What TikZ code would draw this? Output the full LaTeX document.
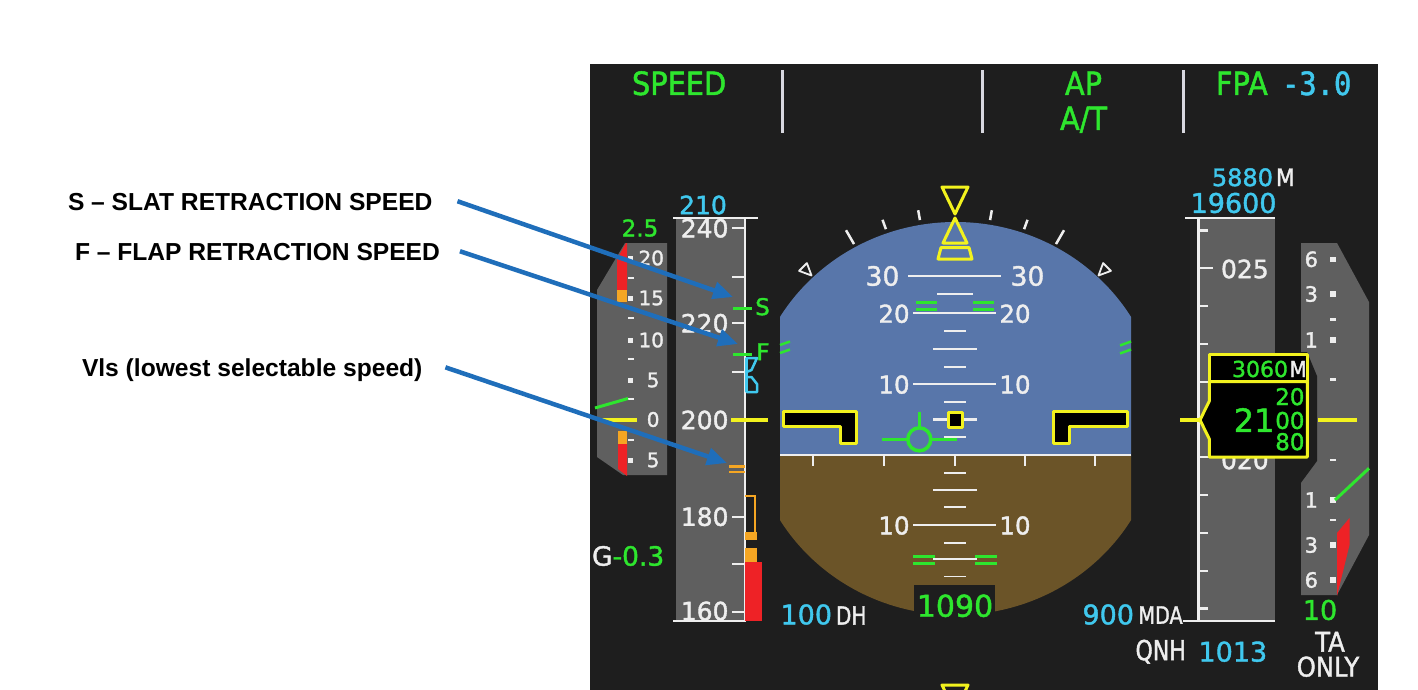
\documentclass[tikz,border=0pt]{standalone}
\usepackage{fontspec}
\setmainfont{Liberation Sans}
\newfontfamily\pfd[FakeBold=1.5]{DejaVu Sans}
\newfontfamily\pfdn[FakeStretch=0.9,FakeBold=1.5]{DejaVu Sans}
\newfontfamily\pfdc[FakeStretch=0.8,FakeBold=1.5]{DejaVu Sans}
\newfontfamily\pfdm[FakeStretch=0.9,FakeBold=1.5]{DejaVu Sans Mono}
\usetikzlibrary{arrows.meta}
\definecolor{pfdbg}{HTML}{1E1E1E}
\definecolor{tape}{HTML}{5F5F5F}
\definecolor{sky}{HTML}{5876AA}
\definecolor{gnd}{HTML}{6B5428}
\definecolor{pgreen}{HTML}{2EE62E}
\definecolor{pcyan}{HTML}{40C8EE}
\definecolor{pyellow}{HTML}{F2F21E}
\definecolor{pamber}{HTML}{F5A623}
\definecolor{pred}{HTML}{EE2226}
\definecolor{pwhite}{HTML}{EEEEEE}
\definecolor{sepgrey}{HTML}{D8D8E0}
\definecolor{arrblue}{HTML}{1F6EBA}
\newcommand\fsz[1]{\fontsize{#1}{#1}\selectfont}
\begin{document}
\begin{tikzpicture}[x=1pt,y=-1pt,
  every node/.style={inner sep=0pt,outer sep=0pt},
  wt/.style={text=pwhite,font={\pfd\fsz{#1}}},
  gt/.style={text=pgreen,font={\pfd\fsz{#1}}},
  ct/.style={text=pcyan,font={\pfd\fsz{#1}}},
  gn/.style={text=pgreen,font={\pfdn\fsz{#1}}},
  wn/.style={text=pwhite,font={\pfdn\fsz{#1}}},
  wc/.style={text=pwhite,font={\pfdc\fsz{#1}}},
  wl/.style={draw=pwhite,line width=2.2pt},
  yl/.style={draw=pyellow,line width=3pt,line join=round},
  gl/.style={draw=pgreen,line width=3pt},
  lab/.style={font={\bfseries\fsz{24.6}},text=black},
  callout/.style={draw=arrblue,line width=4.5pt,-{Triangle[length=20pt,width=17pt]}},
]
\useasboundingbox (0,0) rectangle (1418,690);
\fill[white] (0,0) rectangle (1418,690);
\fill[pfdbg] (590,64) rectangle (1378,690);

% ---- top band
\node[gn=32,anchor=west] (fmaspd) at (632,83.3) {SPEED};
\foreach \x in {782,982,1183} \draw[draw=sepgrey,line width=3pt] (\x,70) -- (\x,133);
\node[gn=32] (fmaap) at (1083.5,83.3) {AP};
\node[gn=32,anchor=base] (fmaat) at (1083.5,130) {A/T};
\node[gn=32,anchor=base west] (fmafpa) at (1216,95) {FPA};
\node[text=pcyan,font={\pfdm\fsz{32}},anchor=base west] (fmafpav) at (1282,95) {-3.0};

% ---- left small scale
\fill[tape] (597,290) -- (625,243) -- (667,243) -- (667,475) -- (623,475) -- (597,457) -- cycle;
\fill[pred] (617,259) -- (626,243) -- (627,243) -- (627,290) -- (617,290) -- cycle;
\fill[pamber] (617,290) rectangle (627,302);
\fill[pamber] (618,431) rectangle (627,444);
\fill[pred] (618,444) -- (627,444) -- (627,476) -- (618,469) -- cycle;
\foreach \y in {258,298,340,380,460} \fill[pwhite] (628,\y-2.5) rectangle (633,\y+2.5);
\foreach \y in {278,318,359,399,440} \fill[pwhite] (628,\y-1.2) rectangle (634,\y+1.2);
\foreach \y/\t in {258/20,298/15,340/10} \node[wt=20,anchor=east] (ls\t) at (664,\y) {\t};
\node[wt=20,anchor=east] (ls5a) at (659.5,380) {5};
\node[wt=20,anchor=east] (ls0) at (659.5,419.5) {0};
\node[wt=20,anchor=east] (ls5b) at (659.5,460) {5};
\node[gt=23] (trimv) at (640,228) {2.5};
\draw[gl] (595,408) -- (628,398.5);
\draw[draw=pyellow,line width=3.5pt] (599,420) -- (637,420);
\node[anchor=west,text=pwhite,font={\pfd\fsz{26.5}}] (gval) at (592,556) {G\textcolor{pgreen}{-0.3}};

% ---- speed tape
\fill[tape] (676,218) rectangle (745,621);
\draw[wl] (673,218) -- (758,218);
\draw[wl] (745,218) -- (745,621) -- (673,621);
\foreach \y in {228.3,276.7,323.3,371.7,420,516.7,564,611.7} \draw[wl] (732,\y) -- (745,\y);
\node[wt=25,anchor=east] (s240) at (728.5,228.3) {240};
\node[wt=25,anchor=east] (s220) at (728.5,323.3) {220};
\node[wt=25,anchor=east] (s200) at (728.5,420) {200};
\node[wt=25,anchor=east] (s180) at (728.5,516.7) {180};
\node[wt=25,anchor=east] (s160) at (728.5,611) {160};
\node[ct=25] (spdsel) at (703,205) {210};
\draw[gl] (733,308) -- (752,308);
\node[gt=23] (smk) at (762.5,306.7) {S};
\draw[gl] (733,354) -- (752,354);
\node[gt=23] (fmk) at (763,351.7) {F};
\draw[draw=pcyan,line width=2.5pt,line join=round,fill=pfdbg] (746.5,358) -- (757,358) -- (751.5,370) -- (746.5,372) -- cycle;
\draw[draw=pcyan,line width=2.5pt,line join=round,fill=pfdbg] (746.5,377) -- (751.5,377) -- (757,384) -- (757,392) -- (746.5,392) -- cycle;
\draw[draw=pcyan,line width=2.5pt] (746.5,358) -- (746.5,392);
\draw[draw=pyellow,line width=3.5pt] (731,420) -- (768,420);
\draw[draw=pamber,line width=2.5pt] (729,466.5) -- (745,466.5) (729,472) -- (745,472);
\draw[draw=pamber,line width=2pt] (745,495.5) -- (755,495.5) -- (755,532);
\fill[pamber] (745,532) rectangle (757,540);
\fill[pamber] (745,548) rectangle (757,562);
\fill[pred] (745,562) rectangle (762,621);

% ---- attitude
\begin{scope}
 \clip (780,100) rectangle (1131,455);
 \fill[sky] (955.5,418.5) ellipse [x radius=205pt,y radius=196.5pt];
\end{scope}
\begin{scope}
 \clip (780,455) rectangle (1131,690);
 \fill[gnd] (955.5,418.5) ellipse [x radius=205pt,y radius=196.5pt];
\end{scope}
\draw[draw=pwhite,line width=2.5pt] (780,455) -- (1131,455);
\foreach \x in {813,884,955,1025,1095} \draw[wl] (\x,455) -- (\x,466);
\foreach \y in {437,401.7,366.7,331,472.7,507.3,542.7} \draw[wl] (944,\y) -- (966,\y);
\foreach \y in {419.5,349,490,559.3} \draw[wl] (933,\y) -- (977,\y);
\draw[wl] (937,294.3) -- (973,294.3);
\foreach \y in {384,313.3,525} \draw[wl] (913,\y) -- (996,\y);
\draw[wl] (908,275.7) -- (1001,275.7);
\draw[draw=pwhite,line width=1.5pt] (944,576.7) -- (966,576.7);
\node[wt=26.5] (p30l) at (882.5,276) {30};
\node[wt=26.5] (p30r) at (1027.5,276) {30};
\node[wt=24.5] (p20l) at (894,313.8) {20};
\node[wt=24.5] (p20r) at (1015,313.8) {20};
\node[wt=24.5] (p10l) at (894,384.6) {10};
\node[wt=24.5] (p10r) at (1015,384.6) {10};
\node[wt=24.5] (m10l) at (894,525.5) {10};
\node[wt=24.5] (m10r) at (1015,525.5) {10};
\draw[draw=pgreen,line width=2.5pt] (916,302.7) -- (937,302.7) (916,309.3) -- (937,309.3) (973,302.7) -- (994,302.7) (973,309.3) -- (994,309.3);
\draw[draw=pgreen,line width=2.5pt] (913,556.7) -- (935,556.7) (913,563.3) -- (935,563.3) (975,556.7) -- (997,556.7) (975,563.3) -- (997,563.3);
\draw[draw=pgreen,line width=2.5pt] (780,345) -- (790,341.5) (780,353) -- (790,349.5) (1120,345.5) -- (1131,341.5) (1120,353.5) -- (1131,349.5);
% bank scale
\foreach \a/\r in {-30/218,30/218,-20/212,20/212,-10/212,10/212}
  \draw[draw=pwhite,line width=2.5pt] ({955+202*sin(\a)},{419-202*cos(\a)}) -- ({955+\r*sin(\a)},{419-\r*cos(\a)});
\draw[draw=pwhite,line width=1.8pt,line join=round] (811.5,275.5) -- (806.9,263.1) -- (799.1,270.9) -- cycle;
\draw[draw=pwhite,line width=1.8pt,line join=round] (1098.5,275.5) -- (1103.1,263.1) -- (1110.9,270.9) -- cycle;
\draw[yl] (942,187) -- (968,187) -- (955,214) -- cycle;
\draw[yl] (955,218) -- (967,243) -- (943,243) -- cycle;
\draw[yl] (941,247.5) -- (969,247.5) -- (972,259) -- (938,259) -- cycle;
% aircraft symbol
\draw[yl,fill=black] (783,411) -- (856,411) -- (856,443.3) -- (840,443.3) -- (840,426.5) -- (783,426.5) -- cycle;
\draw[yl,fill=black] (1127,411) -- (1053,411) -- (1053,443.3) -- (1069,443.3) -- (1069,426.5) -- (1127,426.5) -- cycle;
\draw[yl,fill=black] (948.3,412) rectangle (962.7,427);
% FPV
\draw[draw=pgreen,line width=3.5pt] (919.3,439.3) circle[radius=11.5pt];
\draw[draw=pgreen,line width=3.5pt] (881.7,439.3) -- (907.8,439.3) (930.8,439.3) -- (957.3,439.3) (919.3,427.8) -- (919.3,412.3);
% vertical approach box
\fill[pfdbg] (914,585) rectangle (995,622);
\node[gt=30] (vapp) at (955,605.8) {1090};
\begin{scope}
 \clip (900,680) rectangle (1010,690);
 \draw[yl] (942,685) -- (968,685) -- (955,712) -- cycle;
\end{scope}
\node[ct=27,anchor=west] (dhv) at (780.5,614.5) {100};
\node[wc=25,anchor=west] (dht) at (836,615.5) {DH};
\node[ct=27,anchor=east] (mdav) at (1134,614.5) {900};
\node[wc=24,anchor=west] (mdat) at (1138.5,615) {MDA};
\node[wc=27.5,anchor=west] (qnh) at (1135.5,651.7) {QNH};
\node[ct=27,anchor=west] (qnhv) at (1198.5,651.7) {1013};

% ---- altitude tape
\fill[tape] (1200,218) rectangle (1275,621);
\draw[wl] (1185,218) -- (1275,218);
\draw[wl] (1198.5,218) -- (1198.5,621);
\draw[wl] (1183,621) -- (1275,621);
\foreach \y in {230.5,306.1,343.9,381.7,495.1,532.9,570.7,608.5} \draw[wl] (1198.5,\y) -- (1208,\y);
\foreach \y in {268.3,457.3} \draw[wl] (1198.5,\y) -- (1213,\y);
\node[wt=25,anchor=west] (a025) at (1221,269) {025};
\node[wt=25,anchor=west] (a020) at (1221,460) {020};
\node[ct=24,anchor=east] (mtr) at (1273,177.3) {5880};
\node[wn=24,anchor=west] (mtrm) at (1276,177.3) {M};
\node[ct=27,anchor=east] (altsel) at (1276.5,203) {19600};

% ---- vertical speed
\fill[tape] (1301,243) -- (1337,243) -- (1369,302) -- (1369,535) -- (1337,595) -- (1301,595) -- cycle;
\fill[pfdbg] (1300,352) -- (1307,352) -- (1317,376) -- (1317,461) -- (1300,484) -- cycle;
\foreach \y in {259.3,294,340,500,545,580} \fill[pwhite] (1330,\y-2.7) rectangle (1335.5,\y+2.7);
\foreach \y in {319.3,379.3,460,520} \fill[pwhite] (1330,\y-1.3) rectangle (1336,\y+1.3);
\foreach \y/\t/\n in {259.3/6/a,294/3/b,340/1/c,500/1/d,545/3/e,580/6/f} \node[wt=21,anchor=east] (vs\n) at (1318,\y) {\t};
\draw[gl] (1335,500) -- (1369,468.3);
\fill[pred] (1337,533) -- (1349.5,518) -- (1349.5,545) -- (1337,596) -- cycle;
\node[gt=27] (vsmax) at (1320,610) {10};
\node[wn=27] (tcas1) at (1330,641.7) {TA};
\node[wn=27] (tcas2) at (1328,666.7) {ONLY};

% ---- altitude box
\draw[yl,fill=black] (1209.3,354) rectangle (1307.3,381.7);
\draw[yl,fill=black] (1209.3,381.7) -- (1307.3,381.7) -- (1307.3,457) -- (1209.3,457) -- (1209.3,439) -- (1200,420) -- (1209.3,401) -- cycle;
\draw[draw=pyellow,line width=3.5pt] (1180,420) -- (1200,420);
\draw[draw=pyellow,line width=3.5pt] (1318,420) -- (1357,420);
\node[gt=22,anchor=east] (alt3060) at (1288,369) {3060};
\node[wn=22,anchor=west] (altm) at (1289.5,369) {M};
\node[gt=32,anchor=east] (alt21) at (1274.5,420) {21};
\node[gt=23,anchor=east] (d20) at (1304.5,396.7) {20};
\node[gt=23,anchor=east] (d00) at (1304.5,420.5) {00};
\node[gt=23,anchor=east] (d80) at (1304.5,441.7) {80};

% ---- annotations
\node[lab,anchor=base west] (labS) at (68,210.7) {S – SLAT RETRACTION SPEED};
\node[lab,anchor=base west] (labF) at (75,260.7) {F – FLAP RETRACTION SPEED};
\node[lab,anchor=base west] (labV) at (82,376.7) {Vls (lowest selectable speed)};
\coordinate (tipS) at (733,297);
\coordinate (tipF) at (738,344);
\coordinate (tipV) at (727,463);
\draw[callout] ([xshift=25pt,yshift=1pt]labS.east) -- (tipS);
\draw[callout] ([xshift=20pt,yshift=1pt]labF.east) -- (tipF);
\draw[callout] ([xshift=23pt,yshift=3pt]labV.east) -- (tipV);
\end{tikzpicture}
\end{document}
